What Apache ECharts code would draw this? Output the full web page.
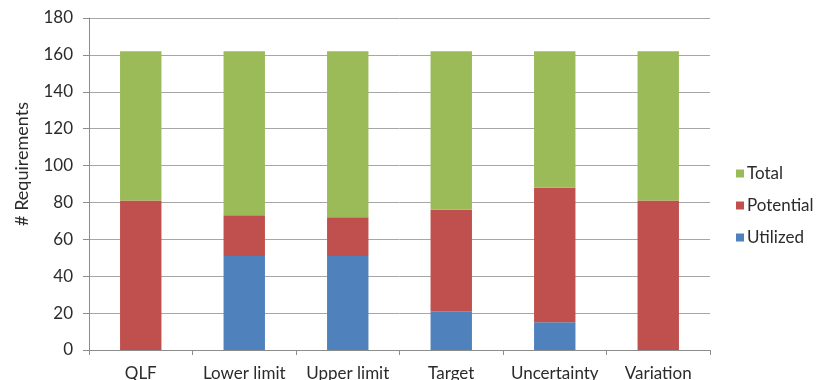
<!DOCTYPE html>
<html>
<head>
<meta charset="utf-8">
<script src="https://cdn.jsdelivr.net/npm/echarts@6/dist/echarts.min.js"></script>
<style>
  html, body { margin: 0; padding: 0; background: #fff; }
  #chart { width: 816px; height: 380px; }
</style>
</head>
<body>
<div id="chart"></div>
<script>
// Requirement categories along the x axis
const categories = ['QLF', 'Lower limit', 'Upper limit', 'Target', 'Uncertainty', 'Variation'];

// Stacked segment heights (bottom to top)
const utilized  = [0, 51, 51, 21, 15, 0];
const potential = [81, 22, 21, 55, 73, 81];
const total     = [81, 89, 90, 86, 74, 81];

const yTicks = { min: 0, max: 180, interval: 20 };

const font = 'Lato, "Open Sans", sans-serif';
const textColor = '#2b2b2b';

const chart = echarts.init(document.getElementById('chart'), null, { renderer: 'canvas' });

chart.setOption({
  animation: false,
  backgroundColor: '#ffffff',
  textStyle: { fontFamily: font },
  grid: { left: 89, right: 106, top: 18, bottom: 30, containLabel: false, outerBoundsMode: 'none' },
  legend: {
    orient: 'vertical',
    left: 731,
    top: 160,
    itemWidth: 8,
    itemHeight: 8,
    itemGap: 15,
    icon: 'rect',
    textStyle: { fontFamily: font, fontSize: 17, color: textColor, padding: [0, 0, 0, -2] },
    data: ['Total', 'Potential', 'Utilized']
  },
  xAxis: {
    type: 'category',
    data: categories,
    axisLine: { lineStyle: { color: '#8c8c8c', width: 1 } },
    axisTick: { show: true, interval: 0, length: 5, alignWithLabel: false, lineStyle: { color: '#8c8c8c' } },
    axisLabel: { interval: 0, hideOverlap: false, fontFamily: font, fontSize: 17, color: textColor, margin: 15 }
  },
  yAxis: {
    type: 'value',
    min: yTicks.min,
    max: yTicks.max,
    interval: yTicks.interval,
    name: '# Requirements',
    nameLocation: 'middle',
    nameGap: 58,
    nameRotate: 90,
    nameTextStyle: { fontFamily: font, fontSize: 18, color: textColor, padding: [0, 0, 0, 40] },
    axisLine: { show: true, lineStyle: { color: '#8c8c8c', width: 1 } },
    axisTick: { show: true, length: 6, lineStyle: { color: '#8c8c8c' } },
    axisLabel: { fontFamily: font, fontSize: 17, color: textColor, margin: 16 },
    splitLine: { show: true, lineStyle: { color: '#a6a6a6', width: 1 } }
  },
  series: [
    {
      name: 'Utilized', type: 'bar', stack: 'req', data: utilized,
      barWidth: '40%', itemStyle: { color: '#4F81BD' }
    },
    {
      name: 'Potential', type: 'bar', stack: 'req', data: potential,
      barWidth: '40%', itemStyle: { color: '#C0504D' }
    },
    {
      name: 'Total', type: 'bar', stack: 'req', data: total,
      barWidth: '40%', itemStyle: { color: '#9BBB59' }
    }
  ]
});
</script>
</body>
</html>
